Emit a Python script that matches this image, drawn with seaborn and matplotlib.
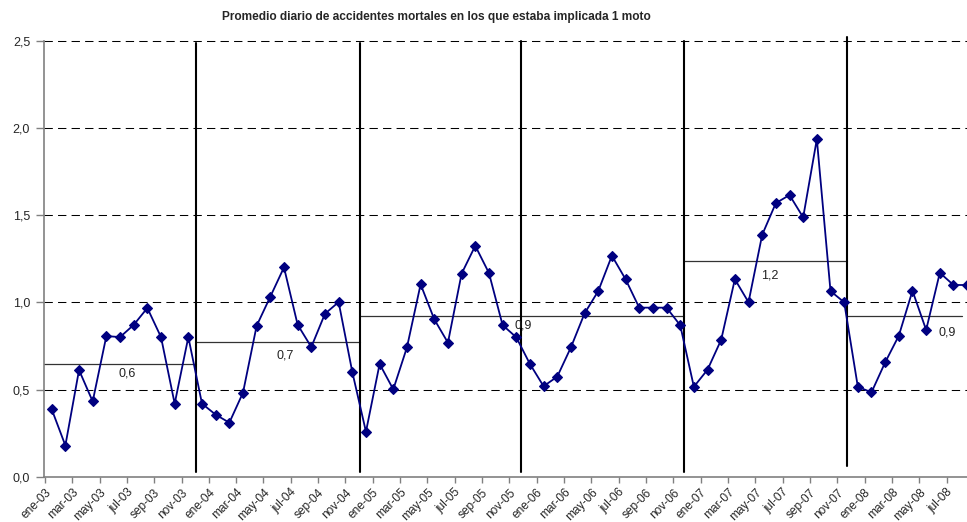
import numpy as np
import pandas as pd
import matplotlib
matplotlib.use("Agg")
import matplotlib.pyplot as plt
import matplotlib.transforms as mtransforms
import seaborn as sns

# ---------------- data ----------------
months = ["ene", "feb", "mar", "abr", "may", "jun", "jul", "ago", "sep", "oct", "nov", "dic"]
years = ["03", "04", "05", "06", "07", "08"]
categories = [f"{m}-{y}" for y in years for m in months][:68]

values = [
    0.387, 0.179, 0.612, 0.432, 0.807, 0.801, 0.871, 0.968, 0.801, 0.419, 0.801,
    0.419, 0.356, 0.310, 0.482, 0.866, 1.033, 1.201, 0.872, 0.744, 0.935, 1.002, 0.601,
    0.258, 0.647, 0.501, 0.742, 1.104, 0.903, 0.769, 1.165, 1.325, 1.169, 0.870, 0.800,
    0.647, 0.519, 0.574, 0.742, 0.937, 1.065, 1.268, 1.133, 0.970, 0.970, 0.970, 0.869,
    0.516, 0.614, 0.786, 1.133, 1.001, 1.388, 1.570, 1.616, 1.488, 1.937, 1.065, 1.001,
    0.516, 0.484, 0.656, 0.809, 1.067, 0.842, 1.170, 1.100, 1.100,
]

avg_values = [0.646, 0.773, 0.920, 1.236, 0.920]
avg_labels = ["0,6", "0,7", "0,9", "1,2", "0,9"]

yticks = [0.0, 0.5, 1.0, 1.5, 2.0, 2.5]
title = "Promedio diario de accidentes mortales en los que estaba implicada 1 moto"

# ---------------- layout constants ----------------
sep_x = [10.54, 22.57, 34.36, 46.29, 58.20]
sep_bottom = [0.027, 0.025, 0.027, 0.027, 0.061]
sep_top = [2.49, 2.49, 2.5, 2.5, 2.522]
avg_spans = [(-0.564, 10.54), (10.54, 22.57), (22.57, 46.29), (46.29, 58.20), (58.20, 66.66)]
avg_label_pos = [(5.56, 0.593), (17.08, 0.698), (34.48, 0.870), (52.53, 1.153), (65.52, 0.826)]

sns.set_theme(style="white")
plt.rcParams["font.family"] = ["Liberation Sans", "DejaVu Sans"]

W, H = 967, 522
fig = plt.figure(figsize=(W / 100, H / 100), dpi=100)
ax = fig.add_axes([44 / W, 1 - 476.7 / H, 1 - 44 / W, (476.7 - 41) / H])

# dashed horizontal gridlines
for v in yticks[1:]:
    ax.axhline(v, color="black", lw=0.75, dashes=(8, 5), zorder=1, clip_on=False)

# yearly average lines
for (x0, x1), v in zip(avg_spans, avg_values):
    ax.plot([x0, x1], [v, v], color="#333333", lw=0.9, zorder=1.5, clip_on=False)
for (px, py), lab in zip(avg_label_pos, avg_labels):
    ax.text(px, py, lab, ha="center", va="center", fontsize=9, color="#222222", zorder=4)

# vertical separators
for x, b, t in zip(sep_x, sep_bottom, sep_top):
    ax.plot([x, x], [b, t], color="black", lw=1.5, zorder=2, clip_on=False)

df = pd.DataFrame({"idx": np.arange(len(values)), "value": values})
sns.lineplot(data=df, x="idx", y="value", ax=ax, color="#000080", lw=1.3,
             marker="D", markersize=5, markeredgecolor="#000080",
             markerfacecolor="#000080", markeredgewidth=0.8, zorder=3)

ax.set_xlim(-0.564, 66.99)
ax.set_ylim(0, 2.5)
ax.set_xlabel("")
ax.set_ylabel("")

xt = np.arange(0, 68, 2)
ax.set_xticks(xt - 0.5)
ax.set_xticklabels([categories[i] for i in xt], rotation=45, ha="right", va="top",
                   rotation_mode="anchor", fontsize=8.6)
offset = mtransforms.ScaledTranslation(-3 / 100, 0, fig.dpi_scale_trans)
for lab in ax.get_xticklabels():
    lab.set_transform(lab.get_transform() + offset)
ax.set_yticks(yticks)
ax.set_yticklabels([f"{v:.1f}".replace(".", ",") for v in yticks], fontsize=9)

ax.tick_params(axis="x", direction="out", length=4, width=1, color="#808080", pad=3, bottom=True)
ax.tick_params(axis="y", direction="out", length=6, width=1, color="#808080", pad=4, left=True)

for s in ["top", "right"]:
    ax.spines[s].set_visible(False)
for s in ["left", "bottom"]:
    ax.spines[s].set_color("#808080")
    ax.spines[s].set_linewidth(1.2)

fig.text(436 / W, 1 - 17 / H, title, ha="center", va="center", fontsize=8.6, fontweight="bold")

fig.savefig("out.png", dpi=100)
